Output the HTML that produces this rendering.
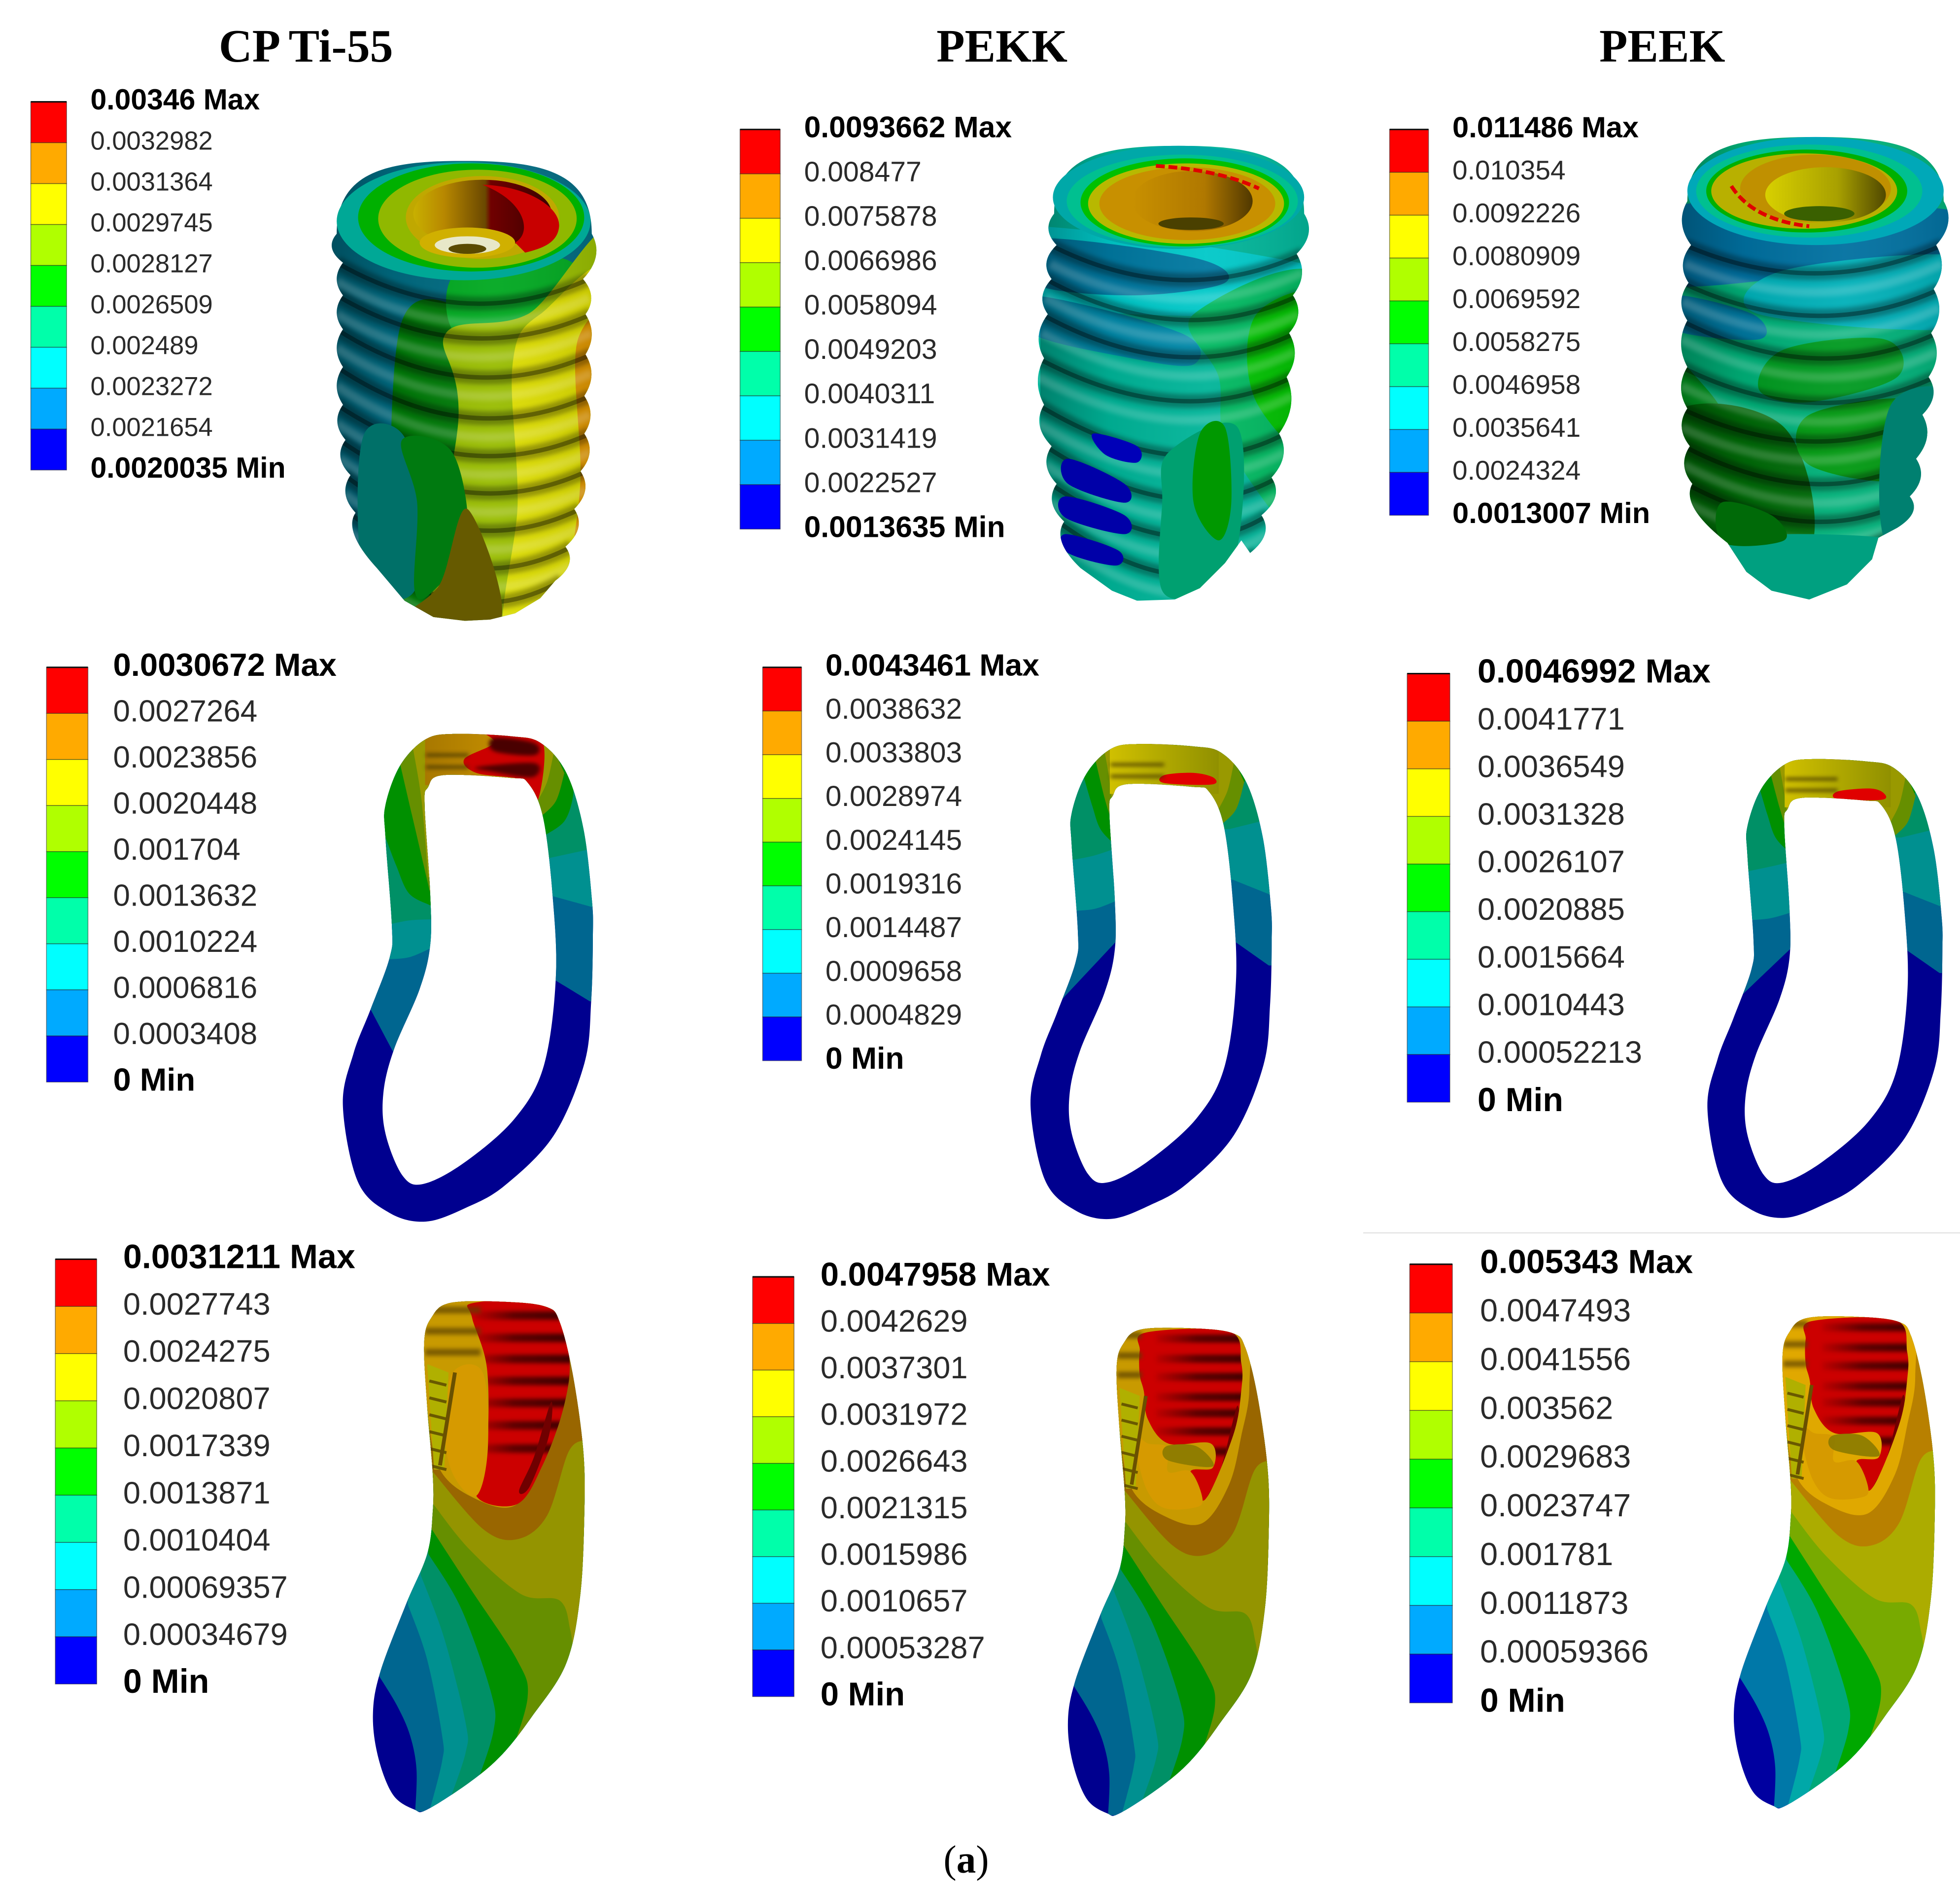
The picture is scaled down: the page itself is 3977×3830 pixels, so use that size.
<!DOCTYPE html>
<html><head><meta charset="utf-8">
<style>
html,body{margin:0;padding:0;background:#fff;}
svg{display:block;}
.lg{font-family:"Liberation Sans",sans-serif;fill:#2a2a2a;dominant-baseline:middle;}
.lb{font-family:"Liberation Sans",sans-serif;fill:#000;font-weight:bold;dominant-baseline:middle;}
.ti{font-family:"Liberation Serif",serif;fill:#000;font-weight:bold;text-anchor:middle;}
</style></head>
<body>
<svg id="figure" width="3977" height="3830" viewBox="0 0 1560 1502.3" xmlns="http://www.w3.org/2000/svg">
<defs>
<filter id="b2" filterUnits="userSpaceOnUse" x="-100" y="-100" width="1800" height="1800"><feGaussianBlur stdDeviation="1.8"/></filter>
<filter id="b8" filterUnits="userSpaceOnUse" x="-100" y="-100" width="1800" height="1800"><feGaussianBlur stdDeviation="5"/></filter>
<linearGradient id="cyl" x1="0" x2="1" y1="0" y2="0">
<stop offset="0" stop-color="#000" stop-opacity=".28"/><stop offset=".25" stop-color="#000" stop-opacity=".06"/><stop offset=".6" stop-color="#fff" stop-opacity=".05"/><stop offset="1" stop-color="#000" stop-opacity=".1"/></linearGradient>
<linearGradient id="holeA" x1="0" x2="1" y1="0" y2="0"><stop offset="0" stop-color="#c8b000"/><stop offset=".22" stop-color="#b88800"/><stop offset=".52" stop-color="#6a4800"/><stop offset=".56" stop-color="#700000"/><stop offset="1" stop-color="#3a0000"/></linearGradient>
<linearGradient id="holeB" x1="0" x2="1" y1="0" y2="0"><stop offset="0" stop-color="#c89000"/><stop offset=".6" stop-color="#b07800"/><stop offset="1" stop-color="#503800"/></linearGradient>
<linearGradient id="holeC" x1="0" x2="1" y1="0" y2="0"><stop offset="0" stop-color="#d8d000"/><stop offset=".6" stop-color="#a8a000"/><stop offset="1" stop-color="#504800"/></linearGradient>
<linearGradient id="orangeTop" x1="0" x2="1" y1="0" y2="0"><stop offset="0" stop-color="#a87800"/><stop offset="1" stop-color="#d09800"/></linearGradient>
<linearGradient id="olivetop" x1="0" x2="1" y1="0" y2="0"><stop offset="0" stop-color="#d0c000"/><stop offset="1" stop-color="#909000"/></linearGradient>
<linearGradient id="redDark" x1="0" x2="1" y1="0" y2="0"><stop offset="0" stop-color="#4a0000" stop-opacity=".1"/><stop offset=".4" stop-color="#4a0000" stop-opacity=".85"/><stop offset="1" stop-color="#3a0000"/></linearGradient>
</defs>
</svg>
<script>
// ---------- legend data (labels, top to bottom) ----------
const legendCpTiTop = ["0.00346 Max","0.0032982","0.0031364","0.0029745","0.0028127","0.0026509","0.002489","0.0023272","0.0021654","0.0020035 Min"];
const legendPekkTop = ["0.0093662 Max","0.008477","0.0075878","0.0066986","0.0058094","0.0049203","0.0040311","0.0031419","0.0022527","0.0013635 Min"];
const legendPeekTop = ["0.011486 Max","0.010354","0.0092226","0.0080909","0.0069592","0.0058275","0.0046958","0.0035641","0.0024324","0.0013007 Min"];
const legendCpTiMid = ["0.0030672 Max","0.0027264","0.0023856","0.0020448","0.001704","0.0013632","0.0010224","0.0006816","0.0003408","0 Min"];
const legendPekkMid = ["0.0043461 Max","0.0038632","0.0033803","0.0028974","0.0024145","0.0019316","0.0014487","0.0009658","0.0004829","0 Min"];
const legendPeekMid = ["0.0046992 Max","0.0041771","0.0036549","0.0031328","0.0026107","0.0020885","0.0015664","0.0010443","0.00052213","0 Min"];
const legendCpTiLow = ["0.0031211 Max","0.0027743","0.0024275","0.0020807","0.0017339","0.0013871","0.0010404","0.00069357","0.00034679","0 Min"];
const legendPekkLow = ["0.0047958 Max","0.0042629","0.0037301","0.0031972","0.0026643","0.0021315","0.0015986","0.0010657","0.00053287","0 Min"];
const legendPeekLow = ["0.005343 Max","0.0047493","0.0041556","0.003562","0.0029683","0.0023747","0.001781","0.0011873","0.00059366","0 Min"];
const legendColors = ["#ff0000","#ffaa00","#ffff00","#b0ff00","#00ff00","#00ffaa","#00ffff","#00aaff","#0000ff"];
const columnTitles = ["CP Ti-55","PEKK","PEEK"];

const NS='http://www.w3.org/2000/svg';
const svg=document.getElementById('figure');
function mk(parent,tag,attrs,name){
  const el=document.createElementNS(NS,tag);
  for(const k in attrs){el.setAttribute(k,attrs[k]);}
  
  
  parent.appendChild(el);
  return el;
}
function smooth(p,closed){
  const n=p.length;let d='M'+p[0][0]+' '+p[0][1];
  const g=i=>closed?p[(i+n)%n]:p[Math.max(0,Math.min(n-1,i))];
  const m=closed?n:n-1;
  for(let i=0;i<m;i++){
    const a=g(i-1),b=g(i),c=g(i+1),e=g(i+2);
    d+=' C'+(b[0]+(c[0]-a[0])/6).toFixed(1)+' '+(b[1]+(c[1]-a[1])/6).toFixed(1)+' '+(c[0]-(e[0]-b[0])/6).toFixed(1)+' '+(c[1]-(e[1]-b[1])/6).toFixed(1)+' '+c[0]+' '+c[1];
  }
  return d+(closed?' Z':'');
}
function area(curve,close){
  let d=smooth(curve,false);
  close.forEach(q=>{d+=' L'+q[0]+' '+q[1];});
  return d+' Z';
}
let uid=0;
function clipFor(d,rule){
  const defs=svg.querySelector('defs');
  const id='c'+(uid++);
  const c=mk(defs,'clipPath',{id:id},'clip-shape');
  mk(c,'path',{d:d,'clip-rule':rule||'nonzero'},'clip-outline');
  return 'url(#'+id+')';
}

// ---------- titles ----------
const titleCx=[243.5,797.5,1323];
columnTitles.forEach((t,i)=>{
  const el=mk(svg,'text',{x:titleCx[i],y:49,class:'ti','font-size':36.8},'column-title-'+t.toLowerCase().replace(/[^a-z0-9]+/g,'-'));
  el.textContent=t;
});
const cap=mk(svg,'text',{x:769,y:1490,class:'ti','font-size':31},'panel-label-a');
cap.style.fontWeight='normal';
cap.textContent='(';
const capB=document.createElementNS(NS,'tspan');capB.setAttribute('font-weight','bold');capB.style.fontWeight='bold';capB.textContent='a';cap.appendChild(capB);
cap.appendChild(document.createTextNode(')'));
mk(svg,'line',{x1:1085,y1:981,x2:1560,y2:981,stroke:'#e4e4e4','stroke-width':1},'panel-divider');

// ---------- legends ----------
function legend(labels,name,x0,x1,top,bottom,tx,fs,bfs){
  const g=mk(svg,'g',{},name);
  const step=(bottom-top)/legendColors.length;
  legendColors.forEach((c,i)=>{
    mk(g,'rect',{x:x0,y:top+i*step,width:x1-x0,height:step,fill:c,stroke:'#222','stroke-opacity':.55,'stroke-width':.6},'legend-swatch');
  });
  mk(g,'line',{x1:x0,x2:x1,y1:top,y2:top,stroke:'#111','stroke-width':1.2},'legend-top-edge');
  const ls=(bottom-top)/(labels.length-1);
  labels.forEach((t,i)=>{
    const bold=i===0||i===labels.length-1;
    const el=mk(g,'text',{x:tx,y:top+i*ls,class:bold?'lb':'lg','font-size':bold?bfs:fs},bold?'legend-extreme-label':'legend-label');
    el.textContent=t;
  });
}
legend(legendCpTiTop,'legend-cp-ti-top',24.5,53,81,374,72,20.6,23.1);
legend(legendPekkTop,'legend-pekk-top',589,621,103,421,640,22.4,23.8);
legend(legendPeekTop,'legend-peek-top',1106,1137,103,410,1156,21.6,23.4);
legend(legendCpTiMid,'legend-cp-ti-mid',37,70,531,861,90,24.3,25.6);
legend(legendPekkMid,'legend-pekk-mid',607,638,531,844,657,23,24.5);
legend(legendPeekMid,'legend-peek-mid',1120,1154,536,877,1176,24.8,26.7);
legend(legendCpTiLow,'legend-cp-ti-low',44,77,1002,1340,98,24.8,26.8);
legend(legendPekkLow,'legend-pekk-low',599,632,1016,1350,653,24.8,26.3);
legend(legendPeekLow,'legend-peek-low',1122,1156,1006,1355,1178,25.4,26.5);

// ---------- bone ring sections (middle row) ----------
const ringOuter=[[1000,275],[1070,262],[1200,268],[1270,285],[1330,360],[1370,500],[1390,680],[1392,770],[1388,930],[1372,1085],[1300,1265],[1185,1390],[1095,1445],[1000,1480],[914,1458],[840,1380],[805,1190],[830,1060],[870,950],[915,820],[920,740],[905,520],[905,440],[940,340]];
const ringInner=[[1040,365],[1200,372],[1240,385],[1275,470],[1297,660],[1305,870],[1277,1090],[1209,1222],[1091,1332],[994,1386],[945,1365],[905,1260],[900,1160],[925,1050],[985,900],[1010,790],[1010,660],[997,440],[1005,395]];
function ring(name,tx,ty,sx,sy,c){
  const g=mk(svg,'g',{transform:'translate('+tx+','+ty+') scale('+sx+','+sy+')'},name);
  const d=smooth(ringOuter,true)+' '+smooth(ringInner,true);
  const clip=clipFor(d,'evenodd');
  const inner=mk(g,'g',{'clip-path':clip},name+'-contours');
  mk(inner,'rect',{x:780,y:240,width:640,height:1260,fill:'#00008f'},'contour-navy');
  const R=[[1450,200],[1150,200]],L=[[1100,200],[780,200]];
  mk(inner,'path',{d:area([[1297,c.r[0]],[1385,c.r[1]]],[[1450,c.r[1]],...R,[1150,c.r[0]]]),fill:'#006690'},'contour-blue');
  mk(inner,'path',{d:area([[1297,c.r[2]],[1392,c.r[3]]],[[1450,c.r[3]],...R,[1150,c.r[2]]]),fill:'#009090'},'contour-teal');
  mk(inner,'path',{d:area([[1290,c.r[4]],[1385,c.r[5]]],[[1450,c.r[5]],...R,[1150,c.r[4]]]),fill:'#009066'},'contour-sea');
  mk(inner,'path',{d:area([[1280,c.r[6]],[1325,c.r[6]-35],[1345,c.r[6]-95],[1345,c.r[6]-155]],[[1325,c.r[6]-175],[1150,200],[1150,c.r[6]]]),fill:'#009000'},'contour-green');
  mk(inner,'path',{d:area([[1268,470],[1305,430],[1325,360]],[[1300,300],[1150,300],[1150,470]]),fill:c.og},'contour-olive-green');
  mk(inner,'path',{d:area([[1262,430],[1285,380],[1300,310]],[[1280,270],[1150,270],[1150,430]]),fill:c.ol},'contour-olive');
  mk(inner,'path',{d:area([[870,c.l[0]],[c.lx,c.l[1]]],[[1100,c.l[1]],...L,[780,c.l[0]]]),fill:'#006690'},'contour-blue');
  mk(inner,'path',{d:area([[905,c.l[2]],[960,c.l[2]-5],[1012,c.l[3]]],[[1100,c.l[3]],...L,[780,c.l[2]]]),fill:'#009090'},'contour-teal');
  mk(inner,'path',{d:area([[905,c.l[4]],[960,c.l[4]-12],[1012,c.l[5]]],[[1100,c.l[5]],...L,[780,c.l[4]]]),fill:'#009066'},'contour-sea');
  mk(inner,'path',{d:area(c.lg,[[1100,c.lg[c.lg.length-1][1]],...L,[780,c.lg[0][1]]]),fill:'#009000'},'contour-green');
  mk(inner,'path',{d:area(c.lo,[[1100,c.lo[c.lo.length-1][1]],[1100,200],[c.lo[0][0],200]]),fill:c.og},'contour-olive-green');
  mk(inner,'path',{d:area(c.ly,[[1100,c.ly[c.ly.length-1][1]],[1100,200],[c.ly[0][0],200]]),fill:c.ol},'contour-olive');
  mk(inner,'rect',{x:998,y:250,width:265,height:140,fill:c.top},'thread-zone');
  if(c.red==='big'){
    mk(inner,'path',{d:smooth([[1135,255],[1160,285],[1090,325],[1120,360],[1230,378],[1262,430],[1275,285],[1200,250]],true),fill:'#cc0000'},'stress-hotspot');
    mk(inner,'path',{d:smooth([[1160,272],[1255,285],[1255,315],[1160,305]],true),fill:'#4a0000',filter:'url(#b8)'},'stress-hotspot-shade');
    mk(inner,'path',{d:smooth([[1120,345],[1255,335],[1250,370],[1150,355]],true),fill:'#500000',filter:'url(#b8)'},'stress-hotspot-shade');
  } else {
    mk(inner,'path',{d:smooth(c.red,true),fill:'#e00000'},'stress-hotspot');
  }
  [315,345].forEach(y=>mk(inner,'line',{x1:1000,x2:c.red==='big'?1100:1130,y1:y,y2:y,stroke:'#403000','stroke-width':10,opacity:.65,filter:'url(#b8)'},'thread-shade'));
}
ring('bone-ring-cp-ti',0,500.5,.339,.3186,{lx:925,r:[873,930,667,695,572,550,515],l:[950,1060,825,797,740,725],lg:[[905,520],[930,590],[960,660],[1010,690]],lo:[[940,340],[975,500],[1010,660]],ly:[[970,300],[990,430],[1005,620]],og:'#668f00',ol:'#999900',top:'url(#orangeTop)',red:'big'});
ring('bone-ring-pekk',557,510.7,.327,.3103,{lx:1012,r:[765,830,610,650,480,455,395],l:[930,770,690,665,560,530],lg:[[930,330],[955,420],[975,480],[1010,520]],lo:[[960,290],[985,400],[1005,470]],ly:[[985,280],[995,340],[1005,420]],og:'#668f00',ol:'#999900',top:'url(#olivetop)',red:[[1130,342],[1200,336],[1250,348],[1245,366],[1130,362]]});
ring('bone-ring-peek',1102.5,525.5,.3186,.2997,{lx:1012,r:[765,830,615,655,470,445,385],l:[910,766,690,670,560,535],lg:[[930,320],[955,410],[975,470],[1010,510]],lo:[[960,290],[985,390],[1005,460]],ly:[[985,280],[995,340],[1005,410]],og:'#668f00',ol:'#999900',top:'url(#olivetop)',red:[[1130,348],[1210,340],[1245,352],[1240,370],[1130,368]]});

// ---------- cut-away bone (bottom row) ----------
const secOuter=[[1055,155],[1190,153],[1280,165],[1310,200],[1340,320],[1365,500],[1368,650],[1358,850],[1325,1010],[1245,1135],[1175,1225],[1100,1290],[1000,1355],[970,1355],[920,1320],[885,1230],[873,1130],[890,1030],[950,870],[1000,750],[1013,650],[1013,560],[1000,400],[993,250],[1010,190]];
function section(name,tx,ty,sx,sy,v,pal){
  const g=mk(svg,'g',{transform:'translate('+tx+','+ty+') scale('+sx+','+sy+')'},name);
  const clip=clipFor(smooth(secOuter,true));
  const inner=mk(g,'g',{'clip-path':clip},name+'-contours');
  mk(inner,'rect',{x:800,y:100,width:700,height:1300,fill:pal[0]},'contour-navy');
  mk(inner,'path',{d:area([[885,1035],[930,1110],[960,1180],[975,1260],[972,1360]],[[1450,1360],[1450,100],[885,100]]),fill:pal[1]},'contour-blue');
  mk(inner,'path',{d:area([[955,870],[1000,1000],[1035,1180],[1035,1240],[1005,1360]],[[1450,1360],[1450,100],[900,100]]),fill:pal[2]},'contour-teal');
  mk(inner,'path',{d:area([[985,800],[1040,950],[1090,1150],[1090,1220],[1050,1340]],[[1450,1340],[1450,100],[950,100]]),fill:pal[3]},'contour-sea');
  mk(inner,'path',{d:area([[1003,750],[1080,880],[1150,1080],[1155,1170],[1110,1310]],[[1450,1310],[1450,100],[980,100]]),fill:pal[4]},'contour-green');
  mk(inner,'path',{d:area([[1010,690],[1100,830],[1210,1000],[1235,1090],[1190,1240]],[[1450,1240],[1450,100],[980,100]]),fill:pal[5]},'contour-olive-green');
  mk(inner,'path',{d:area([[1013,630],[1100,740],[1220,845],[1310,860],[1335,930],[1345,1010]],[[1450,1010],[1450,100],[980,100]]),fill:pal[6]},'contour-olive');
  mk(inner,'path',{d:area([[1013,555],[1130,690],[1210,715],[1280,660],[1330,510],[1365,480]],[[1450,480],[1450,100],[980,100]]),fill:pal[7]},'contour-brown');
  mk(inner,'path',{d:smooth([[985,140],[1120,145],[1300,150],[1320,300],[1300,420],[1270,540],[1205,635],[1115,620],[1030,550],[1000,400]],true),fill:pal[8]},'contour-orange-base');
  const red=v===0?[[1110,155],[1290,155],[1332,280],[1320,400],[1270,540],[1210,632],[1115,612],[1140,500],[1140,310],[1105,190]]
                 :[[1065,163],[1270,160],[1300,238],[1300,308],[1280,418],[1210,578],[1175,508],[1230,498],[1225,438],[1120,438],[1070,378],[1060,308],[1050,268],[1050,208]];
  mk(inner,'path',{d:smooth(red,true),fill:'#cc0000'},'stress-hotspot');
  const cr=clipFor(smooth(red,true));
  const st=mk(inner,'g',{'clip-path':cr},'red-thread-bands');
  const stripeY=v===0?[185,238,288,340,392,445,500]:[178,228,273,323,363,408,458];
  const sx0=v===0?1110:1090;
  stripeY.forEach(y=>mk(st,'rect',{x:sx0,y:y-10,width:1345-sx0,height:20,fill:'url(#redDark)',filter:'url(#b8)'},'thread-shade'));
  mk(st,'path',{d:smooth([[1290,v?345:390],[1250,v?500:520],[1215,v?575:600],[1240,v?565:590],[1285,v?440:470]],true),fill:'#700000'},'inner-shade');
  (v===0?[172,222,272]:[170,220,268]).forEach(y=>mk(inner,'rect',{x:995,y:y-8,width:(v===0?130:60),height:16,fill:'#5a4000',opacity:.7,filter:'url(#b8)'},'thread-shade'));
  if(v===0){
    mk(inner,'path',{d:smooth([[1060,320],[1130,320],[1142,500],[1115,612],[1060,560],[1040,450]],true),fill:'#d69a00'},'implant-slot');
  } else {
    mk(inner,'path',{d:smooth([[1040,418],[1070,438],[1120,448],[1120,508],[1175,508],[1205,578],[1180,598],[1110,598],[1070,558],[1045,478]],true),fill:'#d69a00'},'implant-slot');
    mk(inner,'path',{d:smooth([[1115,445],[1190,445],[1230,495],[1120,480]],true),fill:'#8a7a00',opacity:.9},'implant-slot-thread');
  }
  mk(inner,'path',{d:'M1000 300 L1050 320 L1040 550 L1016 550 Z',fill:'#b0b000'},'left-thread-crests');
  [340,380,420,460,500,540].forEach(y=>mk(inner,'line',{x1:1005,x2:1045,y1:y,y2:y+10,stroke:'#584400','stroke-width':7,opacity:.8},'thread-shade'));
  mk(inner,'line',{x1:1065,y1:320,x2:1030,y2:540,stroke:'#6a5000','stroke-width':9},'slot-edge');
}
section('cut-bone-cp-ti',0,984.6,.34,.336,0,['#00008f','#006690','#009090','#009066','#009000','#668f00','#949400','#996600','#c89a00']);
section('cut-bone-pekk',568,1008,.323,.321,1,['#00008f','#006690','#009090','#009066','#009000','#668f00','#949400','#996600','#c89a00']);
section('cut-bone-peek',1098,998.5,.323,.3236,2,['#0000a0','#0078a8','#00a8a8','#00a878','#00a800','#78aa00','#acac00','#b88000','#e0a800']);

// ---------- implants (top row) ----------
function outline(s){
  const ins=5;
  const Lp=s.L.map((p,i)=>i?[p[0]+ins,p[1]]:p),Rp=s.R.map((p,i)=>i?[p[0]-ins,p[1]]:p);
  let d='M'+Lp[0][0]+' '+Lp[0][1];
  d+=' C'+Lp[0][0]+' '+(s.top+8)+' '+(s.cx-s.rx*.6)+' '+s.top+' '+s.cx+' '+s.top;
  d+=' C'+(s.cx+s.rx*.6)+' '+s.top+' '+Rp[0][0]+' '+(s.top+8)+' '+Rp[0][0]+' '+Rp[0][1];
  for(let i=1;i<Rp.length;i++){
    const a=Rp[i-1],b=Rp[i];
    d+=' Q'+(Math.max(a[0],b[0])+s.b)+' '+((a[1]+b[1])/2)+' '+b[0]+' '+b[1];
  }
  s.bot.forEach(q=>{d+=' L'+q[0]+' '+q[1];});
  for(let i=Lp.length-1;i>0;i--){
    const a=Lp[i],b=Lp[i-1];
    d+=' Q'+(Math.min(a[0],b[0])-s.b)+' '+((a[1]+b[1])/2)+' '+b[0]+' '+b[1];
  }
  return d+' Z';
}
function implant(name,s){
  const g=mk(svg,'g',{},name);
  const clip=clipFor(outline(s));
  const body=mk(g,'g',{'clip-path':clip},name+'-body');
  s.zones.forEach(z=>mk(body,'path',{d:smooth(z[0],true),fill:z[1]},'stress-zone'));
  mk(body,'rect',{x:s.cx-s.rx-10,y:s.top,width:2*s.rx+20,height:400,fill:'url(#cyl)'},'cylinder-shading');
  const n=Math.min(s.L.length,s.R.length);
  for(let i=1;i<n;i++){
    const a=s.L[i],b=s.R[i];
    const q='M'+a[0]+' '+a[1]+' Q'+s.cx+' '+(Math.max(a[1],b[1])+s.sag)+' '+b[0]+' '+b[1];
    mk(body,'path',{d:q,fill:'none',stroke:'#000','stroke-width':11,opacity:.3,filter:'url(#b2)'},'thread-groove-shadow');
    mk(body,'path',{d:q,fill:'none',stroke:'#000','stroke-width':3.5,opacity:.35},'thread-groove');
    mk(body,'path',{d:q,fill:'none',stroke:'#fff','stroke-width':7,opacity:.16,transform:'translate(0,15)',filter:'url(#b2)'},'thread-crest');
  }
  (s.over||[]).forEach(z=>mk(body,'path',{d:smooth(z[0],true),fill:z[1]},'slot-surface'));
  s.face.forEach(e=>mk(g,'ellipse',{cx:e[0],cy:e[1],rx:e[2],ry:e[3],fill:e[4]},'head-contour'));
  (s.marks||[]).forEach(m=>mk(g,m[0],m[1],m[2]));
}
implant('implant-cp-ti',{cx:369,rx:101,top:128,b:10,sag:45,
 L:[[268,186],[268,209],[268,235],[268,262],[268,292],[268,322],[270,350],[274,378],[278,408],[283,437]],
 R:[[471,186],[469,222],[471,250],[471,282],[470,315],[470,345],[467,375],[462,405],[455,435],[447,462]],
 bot:[[430,476],[410,488],[390,493],[370,494],[345,491],[322,478],[300,452]],
 zones:[
  [[[240,100],[500,100],[500,520],[240,520]],'#006a80'],
  [[[318,262],[380,250],[395,270],[370,520],[318,520]],'#007a08'],
  [[[365,215],[445,205],[460,230],[400,262],[360,262]],'#00a820'],
  [[[355,265],[420,250],[500,190],[500,520],[350,520],[365,330]],'#98bc00'],
  [[[408,290],[430,250],[500,225],[500,520],[405,520],[412,400]],'#dcdc00'],
  [[[460,270],[500,260],[500,480],[455,480],[462,380]],'#dc9400']],
 over:[
  [[[290,345],[320,345],[335,400],[330,470],[295,470],[285,420]],'#007068'],
  [[[320,350],[360,360],[372,430],[345,470],[330,470],[332,400]],'#007a10'],
  [[[372,405],[398,495],[320,495],[350,465]],'#665a00']],
 face:[[369,176,101,47,'#00a896'],[375,173,90,43,'#00b000'],[380,174,79,39,'#90b800'],[384,173,61,33,'#c0a800'],[384,170,55,27,'url(#holeA)'],[372,193,38,12,'#d0b000'],[372,195,26,7,'#e8e8c8'],[372,198,15,4,'#5a4a00']],
 marks:[['path',{d:'M384 147 C420 148 446 165 445 180 C444 194 430 198 418 201 L410 193 C424 185 418 160 384 147 Z',fill:'#c80000'},'head-hotspot']]
});
implant('implant-pekk',{cx:938,rx:100,top:116,b:10,sag:45,
 L:[[839,170],[836,195],[832,222],[829,250],[826,285],[826,322],[832,355],[836,385],[842,415],[850,445]],
 R:[[1038,170],[1037,202],[1034,235],[1031,265],[1029,300],[1023,345],[1017,380],[1009,410],[1000,440]],
 bot:[[988,430],[975,448],[955,468],[935,477],[905,478],[885,470],[860,452]],
 zones:[
  [[[800,100],[1060,100],[1060,500],[800,500]],'#00b498'],
  [[[800,180],[1060,215],[1060,250],[800,240]],'#00c8c8'],
  [[[820,190],[950,205],[975,225],[900,235],[820,225]],'#0078a0'],
  [[[820,235],[940,265],[950,290],[900,285],[820,265]],'#0088a8'],
  [[[950,250],[1060,225],[1060,440],[980,360],[970,300]],'#00b860'],
  [[[1000,250],[1060,240],[1060,370],[1000,320]],'#00c000']],
 over:[
  [[[870,345],[905,355],[905,368],[880,362]],'#0000b8'],
  [[[850,365],[895,385],[895,400],[850,385]],'#0000a8'],
  [[[848,395],[895,410],[895,425],[848,412]],'#0000a8'],
  [[[848,425],[890,438],[888,450],[850,440]],'#0000a8'],
  [[[930,360],[985,340],[985,435],[960,470],[925,470],[925,400]],'#00a070'],
  [[[955,345],[975,340],[980,400],[970,430],[950,400]],'#009800']],
 face:[[938,157,100,41,'#00a8a8'],[941,160,92,37,'#00c090'],[943,161,83,35,'#00c000'],[944,162,78,32,'#b8b800'],[945,162,70,29,'#c89000'],[949,160,48,24,'url(#holeB)'],[948,178,26,5,'#4a4000']],
 marks:[['path',{d:'M920 132 Q970 135 1002 150',fill:'none',stroke:'#e00000','stroke-width':3,'stroke-dasharray':'7 3'},'head-hotspot']]
});
implant('implant-peek',{cx:1445,rx:104,top:109,b:10,sag:45,
 L:[[1343,160],[1341,195],[1339,225],[1338,255],[1338,292],[1338,325],[1340,355],[1342,385],[1346,420]],
 R:[[1547,160],[1546,195],[1544,230],[1542,265],[1540,300],[1535,330],[1530,365],[1525,395],[1515,420]],
 bot:[[1495,428],[1490,445],[1470,465],[1440,477],[1410,470],[1390,455],[1375,432]],
 zones:[
  [[[1310,90],[1570,90],[1570,500],[1310,500]],'#00b078'],
  [[[1320,165],[1570,170],[1570,225],[1450,220],[1320,225]],'#0070a0'],
  [[[1420,215],[1570,205],[1570,260],[1400,250]],'#00b0b8'],
  [[[1330,235],[1395,250],[1400,270],[1330,262]],'#0078a0'],
  [[[1420,278],[1500,270],[1510,300],[1440,320],[1400,310]],'#009a20'],
  [[[1330,285],[1350,300],[1370,330],[1330,330]],'#009a20'],
  [[[1330,330],[1420,340],[1440,440],[1350,470],[1320,440]],'#006a08'],
  [[[1440,330],[1530,320],[1520,380],[1440,370]],'#009810']],
 over:[
  [[[1372,430],[1500,428],[1490,448],[1450,480],[1400,475]],'#00a080'],
  [[[1505,322],[1560,320],[1550,430],[1500,430]],'#008070'],
  [[[1370,400],[1410,410],[1420,430],[1372,432]],'#006a08']],
 face:[[1445,152,102,43,'#00a8b8'],[1440,152,90,37,'#00c090'],[1438,152,80,33,'#00b000'],[1436,152,74,30,'#b8b000'],[1445,150,60,27,'#c09000'],[1453,155,48,22,'url(#holeC)'],[1448,170,28,6,'#3a6000']],
 marks:[['path',{d:'M1378 148 Q1395 175 1440 180',fill:'none',stroke:'#e00000','stroke-width':3,'stroke-dasharray':'7 3'},'head-hotspot']]
});
</script>
</body></html>
